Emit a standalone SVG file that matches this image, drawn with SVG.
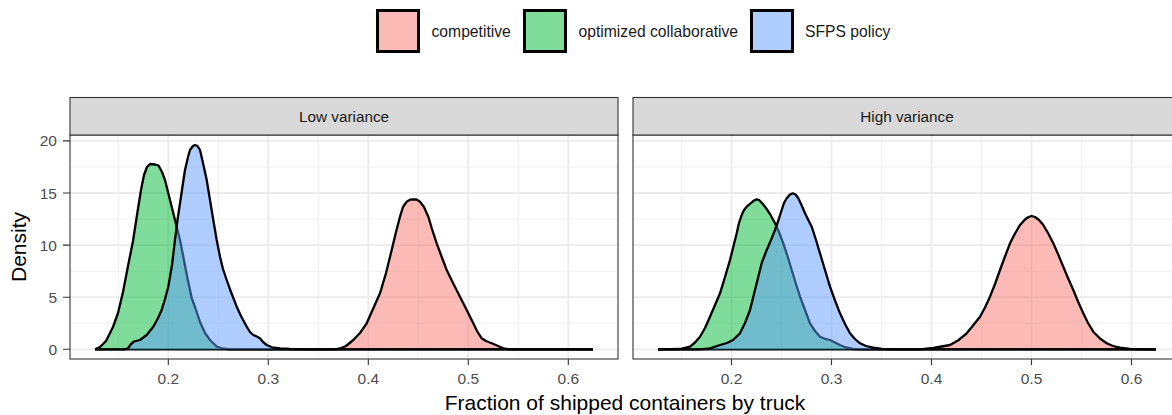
<svg xmlns="http://www.w3.org/2000/svg" width="1172" height="415" viewBox="0 0 1172 415">
<style>
text{font-family:"Liberation Sans",Arial,sans-serif}
.bg{fill:#fff}
.gmaj{stroke:#EBEBEB;stroke-width:1.8;fill:none}
.gmin{stroke:#EFEFEF;stroke-width:1;fill:none}
.border{fill:none;stroke:#333;stroke-width:1.1}
.strip{fill:#D9D9D9;stroke:#333;stroke-width:1.1}
.striptxt{font-size:15.3px;fill:#1A1A1A;text-anchor:middle}
.tick{stroke:#333;stroke-width:1.1}
.ytl{font-size:15.5px;fill:#4D4D4D;text-anchor:end}
.xtl{font-size:15.5px;fill:#4D4D4D;text-anchor:middle}
.title{font-size:21px;fill:#000}
.leg{font-size:15.7px;fill:#1A1A1A}
.fr{fill:#F8766D;fill-opacity:0.5;stroke:none}
.fg{fill:#00BA38;fill-opacity:0.5;stroke:none}
.fb{fill:#619CFF;fill-opacity:0.5;stroke:none}
.ln{fill:none;stroke:#000;stroke-width:2.3;stroke-linejoin:round;stroke-linecap:butt}
</style>

<g id="legend">
  <rect class="fr" x="377.5" y="10.5" width="41" height="41" style="stroke:#000;stroke-width:3"/>
  <text class="leg" x="431.5" y="36.5">competitive</text>
  <rect class="fg" x="524.5" y="10.5" width="41" height="41" style="stroke:#000;stroke-width:3"/>
  <text class="leg" x="578.5" y="36.5">optimized collaborative</text>
  <rect class="fb" x="751.5" y="10.5" width="41" height="41" style="stroke:#000;stroke-width:3"/>
  <text class="leg" x="805" y="36.5">SFPS policy</text>
</g>

<g id="panel-low">
  <rect class="bg" x="70" y="135" width="548" height="224"/>
  <g class="gmin">
    <path d="M70,323.2H618M70,271.2H618M70,219.1H618M70,167H618"/>
    <path d="M118.3,135V359M218.3,135V359M318.3,135V359M418.3,135V359M518.3,135V359"/>
  </g>
  <g class="gmaj">
    <path d="M70,349.3H618M70,297.2H618M70,245.1H618M70,193H618M70,140.9H618"/>
    <path d="M168.3,135V359M268.3,135V359M368.3,135V359M468.3,135V359M568.3,135V359"/>
  </g>
  <path class="fr" d="M95,349.3 L335,349.3 L340,348.5 L346,346 L353.3,340 L360,333 L366.7,323.3 L373,309 L380,293.3 L386,273 L391.7,250 L396,232 L400,216.7 L403,207 L406.7,201.7 L410,199.7 L413.3,199.3 L416.5,199.5 L420,201.7 L424,207 L428.3,216.7 L432,229 L436.7,243.3 L441,255 L446.7,270 L453,283 L460,296.7 L466.7,310 L473.3,323.3 L477,331 L481.7,338.3 L486,341 L491.7,343.3 L497,345.5 L503.3,348.3 L510,349.3 L593,349.3 Z"/>
  <path class="ln" d="M95,349.3 L335,349.3 L340,348.5 L346,346 L353.3,340 L360,333 L366.7,323.3 L373,309 L380,293.3 L386,273 L391.7,250 L396,232 L400,216.7 L403,207 L406.7,201.7 L410,199.7 L413.3,199.3 L416.5,199.5 L420,201.7 L424,207 L428.3,216.7 L432,229 L436.7,243.3 L441,255 L446.7,270 L453,283 L460,296.7 L466.7,310 L473.3,323.3 L477,331 L481.7,338.3 L486,341 L491.7,343.3 L497,345.5 L503.3,348.3 L510,349.3 L593,349.3"/>
  <path class="fg" d="M95,349.3 L100,347 L106,341 L113,327 L118,313 L123,292 L128,266 L133,241 L137,215 L141,190 L144,175 L147,167 L150,164 L155,164.5 L158.5,165.5 L162,172 L165,180 L168,192 L171.7,206.7 L176.7,226.7 L180,240 L183.3,256.7 L187,276 L191.7,298 L195,307 L200,322 L205,333 L210,340 L216.7,346.5 L222,348.5 L230,349.3 L593,349.3 Z"/>
  <path class="ln" d="M95,349.3 L100,347 L106,341 L113,327 L118,313 L123,292 L128,266 L133,241 L137,215 L141,190 L144,175 L147,167 L150,164 L155,164.5 L158.5,165.5 L162,172 L165,180 L168,192 L171.7,206.7 L176.7,226.7 L180,240 L183.3,256.7 L187,276 L191.7,298 L195,307 L200,322 L205,333 L210,340 L216.7,346.5 L222,348.5 L230,349.3 L593,349.3"/>
  <path class="fb" d="M95,349.3 L125,349.3 L128.3,348 L131,344 L134,341.5 L140,340 L146.7,335 L153.3,326.7 L158,318 L161.7,310 L165,299 L168.3,286.7 L172,265 L175,240 L177.5,220 L180,203.3 L183,183 L185,170 L188,157 L190,150 L193,146 L195,145 L197.5,146 L200,150 L203,163 L206.7,180 L210,200 L213.3,220 L216.7,240 L220,256.7 L223,269 L226.7,280 L231,292 L236.7,306.7 L241,316 L246.7,326.7 L250,332 L253.3,335 L256.7,336.5 L260,338.3 L263,342 L266.7,345 L272,347.3 L280,348.3 L290,349 L300,349.3 L593,349.3 Z"/>
  <path class="ln" d="M95,349.3 L125,349.3 L128.3,348 L131,344 L134,341.5 L140,340 L146.7,335 L153.3,326.7 L158,318 L161.7,310 L165,299 L168.3,286.7 L172,265 L175,240 L177.5,220 L180,203.3 L183,183 L185,170 L188,157 L190,150 L193,146 L195,145 L197.5,146 L200,150 L203,163 L206.7,180 L210,200 L213.3,220 L216.7,240 L220,256.7 L223,269 L226.7,280 L231,292 L236.7,306.7 L241,316 L246.7,326.7 L250,332 L253.3,335 L256.7,336.5 L260,338.3 L263,342 L266.7,345 L272,347.3 L280,348.3 L290,349 L300,349.3 L593,349.3"/>
  <rect class="border" x="70" y="135" width="548" height="224"/>
  <rect class="strip" x="70" y="97.5" width="548" height="37.5"/>
  <text class="striptxt" x="344" y="122">Low variance</text>
</g>

<g id="panel-high">
  <rect class="bg" x="633" y="135" width="548" height="224"/>
  <g class="gmin">
    <path d="M633,323.2H1181M633,271.2H1181M633,219.1H1181M633,167H1181"/>
    <path d="M681.5,135V359M781.5,135V359M881.5,135V359M981.5,135V359M1081.5,135V359"/>
  </g>
  <g class="gmaj">
    <path d="M633,349.3H1181M633,297.2H1181M633,245.1H1181M633,193H1181M633,140.9H1181"/>
    <path d="M731.5,135V359M831.5,135V359M931.5,135V359M1031.5,135V359M1131.5,135V359"/>
  </g>
  <path class="fr" d="M658,349.3 L920,349.3 L933.3,348 L950,345 L958,340.5 L966.7,333.3 L973,325.5 L980,316.7 L985,307.5 L990,296.7 L995,284 L1000,270 L1005,256.5 L1010,243.3 L1015,233.5 L1020,225 L1025,219.5 L1028.5,217 L1031.7,216 L1035,217 L1039,220 L1043.3,225 L1048,233 L1053.3,243.3 L1058,254 L1063.3,266.7 L1068,278 L1073.3,290 L1078,301.5 L1083.3,313.3 L1088,323 L1093.3,331.7 L1100,338.5 L1106.7,343.3 L1113,346 L1120,347.7 L1130,348.8 L1140,349.3 L1156,349.3 Z"/>
  <path class="ln" d="M658,349.3 L920,349.3 L933.3,348 L950,345 L958,340.5 L966.7,333.3 L973,325.5 L980,316.7 L985,307.5 L990,296.7 L995,284 L1000,270 L1005,256.5 L1010,243.3 L1015,233.5 L1020,225 L1025,219.5 L1028.5,217 L1031.7,216 L1035,217 L1039,220 L1043.3,225 L1048,233 L1053.3,243.3 L1058,254 L1063.3,266.7 L1068,278 L1073.3,290 L1078,301.5 L1083.3,313.3 L1088,323 L1093.3,331.7 L1100,338.5 L1106.7,343.3 L1113,346 L1120,347.7 L1130,348.8 L1140,349.3 L1156,349.3"/>
  <path class="fg" d="M658,349.3 L680,349 L690,346.7 L695,342.5 L700,336.7 L705,328 L710,316.7 L715,305 L720,293.3 L725,277 L730,260 L733.5,246 L736.7,233.3 L739,223 L741.7,215 L744,210 L746.7,206.7 L751,203 L754,200.5 L756.7,199.3 L759,200 L762,203 L765,206.7 L770,214 L775,223.3 L779,232 L783.3,243.3 L787.5,256 L791.7,270 L796,284 L800,296.7 L805,310 L810,323.3 L815,331 L820,336.7 L825,338.8 L830,340 L835,342.5 L840,345 L846,347.5 L853.3,349 L860,349.3 L1156,349.3 Z"/>
  <path class="ln" d="M658,349.3 L680,349 L690,346.7 L695,342.5 L700,336.7 L705,328 L710,316.7 L715,305 L720,293.3 L725,277 L730,260 L733.5,246 L736.7,233.3 L739,223 L741.7,215 L744,210 L746.7,206.7 L751,203 L754,200.5 L756.7,199.3 L759,200 L762,203 L765,206.7 L770,214 L775,223.3 L779,232 L783.3,243.3 L787.5,256 L791.7,270 L796,284 L800,296.7 L805,310 L810,323.3 L815,331 L820,336.7 L825,338.8 L830,340 L835,342.5 L840,345 L846,347.5 L853.3,349 L860,349.3 L1156,349.3"/>
  <path class="fb" d="M658,349.3 L700,349.3 L710,348.3 L720,345 L727,343 L733,340 L740,333.3 L745,323 L750,310 L754,294 L758.3,276.7 L762,262 L766.7,250 L771,240 L775,230 L778.5,220 L781.7,210 L784,203 L786.7,198.3 L790,194.5 L792.7,193.3 L795.5,194.5 L798.3,198.3 L801.7,205.5 L805,213.3 L808.3,220 L811.7,226.7 L816,240 L820,253.3 L825,270 L830,286.7 L835,300.5 L840,313.3 L845,324 L850,333.3 L855,339 L860,343.3 L866,346 L873.3,347.7 L882,348.8 L890,349.3 L1156,349.3 Z"/>
  <path class="ln" d="M658,349.3 L700,349.3 L710,348.3 L720,345 L727,343 L733,340 L740,333.3 L745,323 L750,310 L754,294 L758.3,276.7 L762,262 L766.7,250 L771,240 L775,230 L778.5,220 L781.7,210 L784,203 L786.7,198.3 L790,194.5 L792.7,193.3 L795.5,194.5 L798.3,198.3 L801.7,205.5 L805,213.3 L808.3,220 L811.7,226.7 L816,240 L820,253.3 L825,270 L830,286.7 L835,300.5 L840,313.3 L845,324 L850,333.3 L855,339 L860,343.3 L866,346 L873.3,347.7 L882,348.8 L890,349.3 L1156,349.3"/>
  <rect class="border" x="633" y="135" width="548" height="224"/>
  <rect class="strip" x="633" y="97.5" width="548" height="37.5"/>
  <text class="striptxt" x="907" y="122">High variance</text>
</g>

<g id="axes">
  <path class="tick" d="M63,349.3H70M63,297.2H70M63,245.1H70M63,193H70M63,140.9H70"/>
  <text class="ytl" x="57" y="354.8">0</text>
  <text class="ytl" x="57" y="302.7">5</text>
  <text class="ytl" x="57" y="250.6">10</text>
  <text class="ytl" x="57" y="198.5">15</text>
  <text class="ytl" x="57" y="146.4">20</text>
  <path class="tick" d="M168.3,359V365M268.3,359V365M368.3,359V365M468.3,359V365M568.3,359V365"/>
  <path class="tick" d="M731.5,359V365M831.5,359V365M931.5,359V365M1031.5,359V365M1131.5,359V365"/>
  <text class="xtl" x="168.3" y="384">0.2</text>
  <text class="xtl" x="268.3" y="384">0.3</text>
  <text class="xtl" x="368.3" y="384">0.4</text>
  <text class="xtl" x="468.3" y="384">0.5</text>
  <text class="xtl" x="568.3" y="384">0.6</text>
  <text class="xtl" x="731.5" y="384">0.2</text>
  <text class="xtl" x="831.5" y="384">0.3</text>
  <text class="xtl" x="931.5" y="384">0.4</text>
  <text class="xtl" x="1031.5" y="384">0.5</text>
  <text class="xtl" x="1131.5" y="384">0.6</text>
  <text class="title" x="625" y="409.5" text-anchor="middle">Fraction of shipped containers by truck</text>
  <text class="title" transform="translate(25.5,247) rotate(-90)" text-anchor="middle">Density</text>
</g>
</svg>
